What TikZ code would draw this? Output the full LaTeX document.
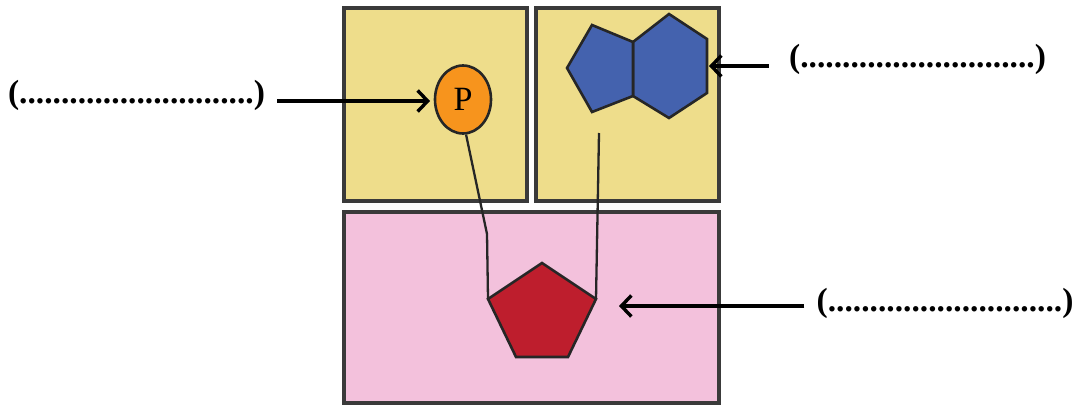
\documentclass[tikz,border=0pt]{standalone}
\usepackage{fontspec}
\setmainfont{Liberation Serif}
\usetikzlibrary{arrows.meta,shapes.geometric}
\definecolor{boxyellow}{HTML}{EEDD8B}
\definecolor{boxpink}{HTML}{F3C1DC}
\definecolor{porange}{HTML}{F7941D}
\definecolor{sblue}{HTML}{4462AE}
\definecolor{bred}{HTML}{BE1E2D}
\definecolor{edgegrey}{HTML}{3A3A3A}
\tikzset{
  panel/.style={draw=edgegrey, line width=3.4pt},
  shapeline/.style={draw=black!85, line width=2.6pt, line join=miter},
  linker/.style={draw=black!85, line width=2.3pt},
  pointer/.style={draw=black, line width=3.6pt, -{Straight Barb[length=10pt,width=21pt,line width=3.4pt]}},
  blank/.style={font=\bfseries\fontsize{33.5}{36}\selectfont, inner sep=0pt, text=black}
}
\begin{document}
\begin{tikzpicture}[x=1pt,y=-1pt]
\useasboundingbox (0,0) rectangle (1075,407);
% panels
\draw[panel, fill=boxyellow] (344,8) rectangle (527,201);
\draw[panel, fill=boxyellow] (536,8) rectangle (719,201);
\draw[panel, fill=boxpink] (344,212) rectangle (719,403);
% phosphate
\node[ellipse, shapeline, fill=porange, minimum width=56pt, minimum height=68pt, inner sep=0pt,
      font=\fontsize{34}{36}\selectfont] (P) at (463,99.5) {P};
% base (pentagon + hexagon)
\coordinate (b1) at (567,68);
\coordinate (b2) at (592,25);
\coordinate (b3) at (633,42);
\coordinate (b4) at (633,96);
\coordinate (b5) at (592,112);
\coordinate (h2) at (669,14);
\coordinate (h3) at (707,39);
\coordinate (h4) at (707,93);
\coordinate (h5) at (669,118);
\draw[shapeline, fill=sblue] (b3) -- (h2) -- (h3) -- (h4) -- (h5) -- (b4) -- cycle;
\draw[shapeline, fill=sblue] (b1) -- (b2) -- (b3) -- (b4) -- (b5) -- cycle;
% sugar
\coordinate (s1) at (542,263);
\coordinate (s2) at (596,299);
\coordinate (s3) at (568,357);
\coordinate (s4) at (516,357);
\coordinate (s5) at (488,299);
\draw[shapeline, fill=bred] (s1) -- (s2) -- (s3) -- (s4) -- (s5) -- cycle;
% links
\coordinate (pk) at (487,234);
\coordinate (bk) at (599,133);
\draw[linker] (P.-85) -- (pk) -- (s5);
\draw[linker] (bk) -- (s2);
% labels
\node[blank] (lblP) at (136.5,95) {(............................)};
\node[blank] (lblB) at (917.5,59) {(............................)};
\node[blank] (lblS) at (945,303) {(............................)};
% pointers
\coordinate (tP) at (430,101);
\coordinate (tB) at (709,66);
\coordinate (tS) at (619,306);
\draw[pointer] ([xshift=12pt]lblP.east |- tP) -- (tP);
\draw[pointer] ([xshift=-20pt]lblB.west |- tB) -- (tB);
\draw[pointer] ([xshift=-12pt]lblS.west |- tS) -- (tS);
\end{tikzpicture}
\end{document}
